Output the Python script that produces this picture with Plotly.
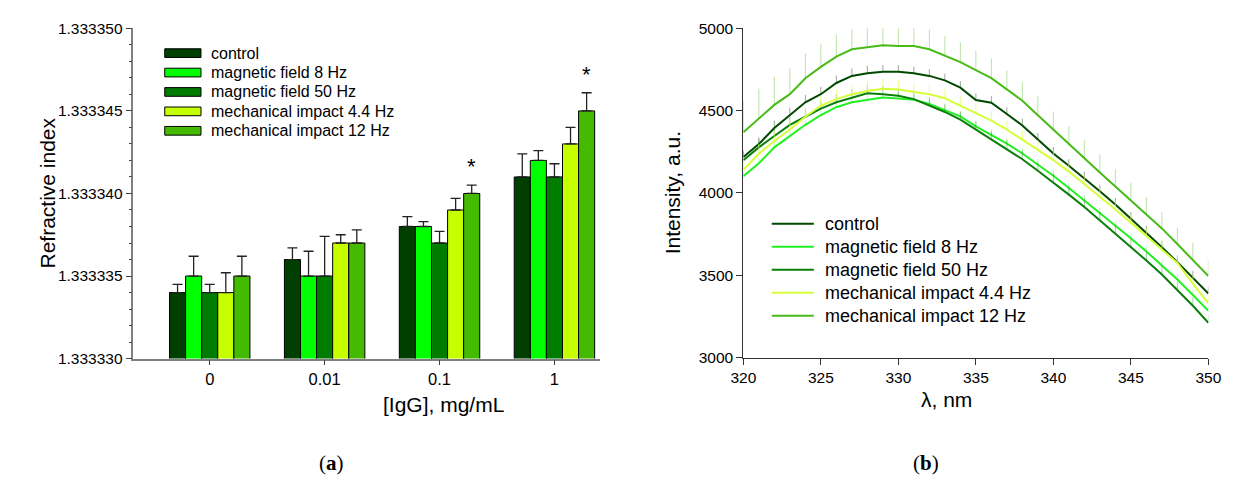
import plotly.graph_objects as go

# ---------------- data: panel (a) ----------------
concentrations = ["0", "0.01", "0.1", "1"]
series_names = ["control", "magnetic field 8 Hz", "magnetic field 50 Hz",
                "mechanical impact 4.4 Hz", "mechanical impact 12 Hz"]
ri_control = [1.333334, 1.333336, 1.333338, 1.333341]
ri_mag8 = [1.333335, 1.333335, 1.333338, 1.333342]
ri_mag50 = [1.333334, 1.333335, 1.333337, 1.333341]
ri_mech44 = [1.333334, 1.333337, 1.333339, 1.333343]
ri_mech12 = [1.333335, 1.333337, 1.333340, 1.333345]
err_control = [0.0000005, 0.0000007, 0.0000006, 0.0000014]
err_mag8 = [0.0000012, 0.0000015, 0.0000003, 0.0000006]
err_mag50 = [0.0000005, 0.0000024, 0.0000007, 0.0000008]
err_mech44 = [0.0000012, 0.0000005, 0.0000007, 0.0000010]
err_mech12 = [0.0000012, 0.0000008, 0.0000005, 0.0000011]
significant = [False, False, True, True]  # star above mechanical impact 12 Hz

# ---------------- data: panel (b) ----------------
wavelength = list(range(320, 351))
int_control = [4219, 4297, 4395, 4473, 4551, 4600, 4668, 4711, 4727, 4736, 4736,
               4727, 4711, 4684, 4640, 4565, 4548, 4480, 4410, 4325, 4240,
               4165, 4090, 4010, 3930, 3845, 3760, 3670, 3580, 3487, 3390]
int_mag8 = [4102, 4180, 4277, 4346, 4414, 4473, 4521, 4551, 4566, 4580, 4574,
            4566, 4541, 4502, 4465, 4405, 4355, 4300, 4240, 4175, 4105,
            4030, 3955, 3880, 3800, 3725, 3645, 3560, 3475, 3380, 3285]
int_mag50 = [4199, 4277, 4346, 4414, 4463, 4512, 4551, 4580, 4605, 4600, 4590,
             4570, 4531, 4492, 4445, 4385, 4325, 4270, 4205, 4135, 4065,
             3990, 3915, 3835, 3755, 3675, 3590, 3505, 3410, 3315, 3211]
int_mech44 = [4141, 4238, 4316, 4385, 4463, 4531, 4570, 4600, 4619, 4633, 4629,
              4613, 4600, 4575, 4530, 4490, 4440, 4385, 4325, 4265, 4200,
              4130, 4055, 3980, 3900, 3820, 3740, 3660, 3575, 3450, 3330]
int_mech12 = [4369, 4453, 4535, 4600, 4697, 4766, 4828, 4873, 4887, 4897, 4893,
              4893, 4873, 4834, 4795, 4746, 4697, 4629, 4560, 4472, 4384,
              4296, 4210, 4125, 4040, 3955, 3870, 3785, 3690, 3595, 3495]
sd_control = [40, 40, 45, 45, 45, 45, 45, 45, 45, 40, 40,
              40, 40, 40, 40, 40, 40, 40, 40, 40, 40,
              40, 40, 40, 40, 40, 40, 40, 40, 40, 40]
sd_mag8 = [30, 30, 30, 30, 30, 30, 30, 30, 30, 30, 30,
           30, 30, 30, 30, 30, 30, 30, 30, 30, 30,
           30, 30, 30, 30, 30, 30, 30, 30, 30, 30]
sd_mag50 = [50, 50, 50, 50, 50, 50, 50, 50, 50, 50, 50,
            50, 50, 50, 50, 50, 50, 50, 50, 50, 50,
            50, 50, 50, 50, 50, 50, 50, 50, 50, 50]
sd_mech44 = [60, 60, 60, 60, 60, 60, 60, 60, 60, 60, 60,
             55, 55, 55, 55, 55, 55, 55, 55, 55, 55,
             50, 50, 50, 50, 50, 50, 50, 50, 50, 50]
sd_mech12 = [190, 180, 170, 160, 150, 140, 130, 120, 120, 120, 120,
             120, 120, 120, 120, 120, 120, 115, 115, 115, 110,
             110, 110, 110, 105, 105, 105, 100, 100, 100, 100]

bar_colors = ["#003f00", "#00ff00", "#007c00", "#c6ff00", "#44bb00"]
line_colors = ["#004a00", "#22f022", "#0a800a", "#d6ff3a", "#48bb18"]
err_colors = ["rgba(60,80,60,0.5)", "rgba(60,240,60,0.4)", "rgba(20,130,20,0.4)",
              "rgba(220,255,90,0.65)", "rgba(120,200,80,0.5)"]

W, H = 1239, 497
FONT = "Liberation Sans, Arial, sans-serif"


def px(x):
    return x / W


def py(y):
    return 1 - y / H


fig = go.Figure()

ri_values = [ri_control, ri_mag8, ri_mag50, ri_mech44, ri_mech12]
ri_errors = [err_control, err_mag8, err_mag50, err_mech44, err_mech12]
xpos = list(range(len(concentrations)))
for name, vals, errs, col in zip(series_names, ri_values, ri_errors, bar_colors):
    fig.add_trace(go.Bar(
        x=xpos, y=vals, name=name, marker=dict(color=col, line=dict(color="#000000", width=1)),
        error_y=dict(type="data", array=errs, arrayminus=[0] * len(errs), symmetric=False,
                     color="#222222", thickness=1.3, width=5),
        xaxis="x", yaxis="y", showlegend=False))

int_values = [int_control, int_mag8, int_mag50, int_mech44, int_mech12]
int_sd = [sd_control, sd_mag8, sd_mag50, sd_mech44, sd_mech12]
for name, vals, sd, col, ecol in zip(series_names, int_values, int_sd, line_colors, err_colors):
    fig.add_trace(go.Scatter(
        x=wavelength, y=vals, name=name, mode="lines", line=dict(color=col, width=2),
        error_y=dict(type="data", array=sd, arrayminus=[0] * len(sd), symmetric=False,
                     color=ecol, thickness=1, width=0),
        xaxis="x2", yaxis="y2", showlegend=False))

# significance stars
annotations = []
bar_w = (1 - 0.3) / 5
for i, sig in enumerate(significant):
    if sig:
        annotations.append(dict(x=xpos[i] + 2 * bar_w, y=ri_mech12[i] + err_mech12[i],
                                xref="x", yref="y", text="*", showarrow=False,
                                yanchor="bottom", yshift=4, font=dict(family=FONT, size=22, color="#000")))

# manual legends
shapes = []
for k, (name, col) in enumerate(zip(series_names, bar_colors)):
    yc = 45.7 + 20.1 * k
    shapes.append(dict(type="rect", xref="paper", yref="paper",
                       x0=px(155), x1=px(192), y0=py(yc + 4.5), y1=py(yc - 4.5),
                       fillcolor=col, line=dict(color="#000", width=1)))
    annotations.append(dict(x=px(200), y=py(yc), xref="paper", yref="paper", text=name,
                            showarrow=False, xanchor="left", yanchor="middle",
                            font=dict(family=FONT, size=16, color="#000")))
for k, (name, col) in enumerate(zip(series_names, line_colors)):
    yc = 222.3 + 23.8 * k
    shapes.append(dict(type="line", xref="paper", yref="paper",
                       x0=px(775), x1=px(818), y0=py(yc), y1=py(yc),
                       line=dict(color=col, width=2)))
    annotations.append(dict(x=px(827), y=py(yc), xref="paper", yref="paper", text=name,
                            showarrow=False, xanchor="left", yanchor="middle",
                            font=dict(family=FONT, size=18, color="#000")))

# axis titles and panel labels
annotations += [
    dict(x=px(21), y=py(191), xref="paper", yref="paper", text="Refractive index", textangle=-90,
         showarrow=False, font=dict(family=FONT, size=21, color="#000")),
    dict(x=px(376), y=py(424), xref="paper", yref="paper", text="[IgG], mg/mL",
         showarrow=False, font=dict(family=FONT, size=21, color="#000")),
    dict(x=px(674), y=py(190), xref="paper", yref="paper", text="Intensity, a.u.", textangle=-90,
         showarrow=False, font=dict(family=FONT, size=21, color="#000")),
    dict(x=px(982), y=py(418), xref="paper", yref="paper", text="λ, nm",
         showarrow=False, font=dict(family=FONT, size=21, color="#000")),
    dict(x=px(311), y=py(485), xref="paper", yref="paper", text="(<b>a</b>)",
         showarrow=False, font=dict(family="Liberation Serif, serif", size=21, color="#000")),
    dict(x=px(948), y=py(485), xref="paper", yref="paper", text="(<b>b</b>)",
         showarrow=False, font=dict(family="Liberation Serif, serif", size=21, color="#000")),
]

tickfont = dict(family=FONT, size=15.5, color="#000")
fig.update_layout(
    width=W, height=H, margin=dict(l=0, r=0, t=0, b=0),
    paper_bgcolor="white", plot_bgcolor="white",
    barmode="group", bargap=0.3, bargroupgap=0,
    showlegend=False,
    shapes=shapes, annotations=annotations,
    xaxis=dict(domain=[px(123), px(600)], range=[-0.664, 3.40], tickvals=xpos, ticktext=concentrations,
               showline=True, linecolor="#808080", linewidth=1.5, ticks="outside", ticklen=5,
               tickcolor="#444", showgrid=False, zeroline=False, tickfont=dict(family=FONT, size=16.5, color="#000"),
               anchor="y"),
    yaxis=dict(domain=[py(362), py(20)], range=[1.33333, 1.33335], tickvals=[1.33333, 1.333335, 1.33334, 1.333345, 1.33335],
               tickformat=".6f", showline=True, linecolor="#808080", linewidth=1.5, ticks="outside", ticklen=6,
               tickcolor="#444", showgrid=False, zeroline=False, tickfont=tickfont, anchor="x",
               minor=dict(dtick=0.000001, ticks="outside", ticklen=3, tickcolor="#444", showgrid=False)),
    xaxis2=dict(domain=[px(746), px(1221)], range=[320, 350], dtick=5, tick0=320,
                showline=True, linecolor="#333", linewidth=1.2, ticks="outside", ticklen=6,
                tickcolor="#333", showgrid=False, zeroline=False, tickfont=tickfont, anchor="y2"),
    yaxis2=dict(domain=[py(361), py(20)], range=[3000, 5000], dtick=500, tick0=3000, tickformat="d",
                showline=True, linecolor="#333", linewidth=1.2, ticks="outside", ticklen=6,
                tickcolor="#333", showgrid=False, zeroline=False, tickfont=tickfont, anchor="x2"),
)

fig.write_html("out.html")
